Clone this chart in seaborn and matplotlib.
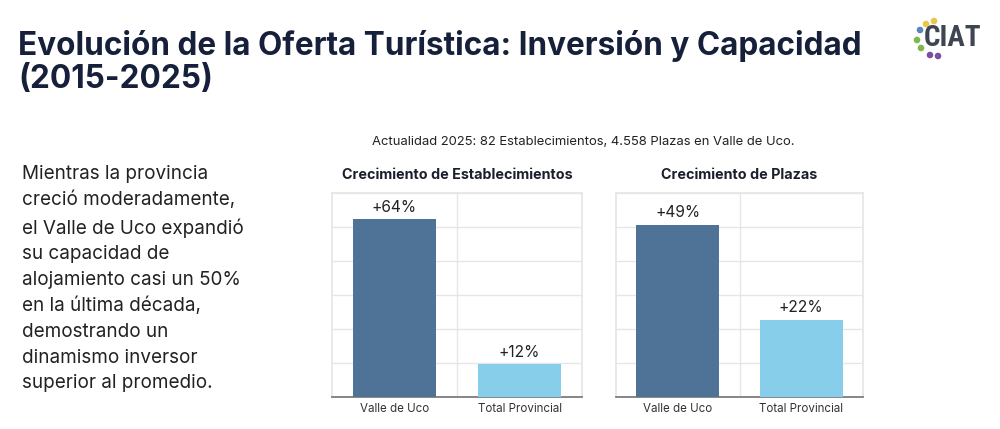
import pandas as pd
import matplotlib
matplotlib.use("Agg")
import matplotlib.pyplot as plt
import matplotlib.patches as mpatches
import numpy as np
import seaborn as sns

# data
categories = ["Valle de Uco", "Total Provincial"]
establecimientos = [64, 12]
plazas = [49, 22]
bar_colors = ["#4f7396", "#87ceeb"]

title_lines = ["Evolución de la Oferta Turística: Inversión y Capacidad", "(2015-2025)"]
subtitle = "Actualidad 2025: 82 Establecimientos, 4.558 Plazas en Valle de Uco."
chart_titles = ["Crecimiento de Establecimientos", "Crecimiento de Plazas"]
paragraph = ("Mientras la provincia\ncreció moderadamente,\nel Valle de Uco expandió\n"
             "su capacidad de\nalojamiento casi un 50%\nen la última década,\n"
             "demostrando un\ndinamismo inversor\nsuperior al promedio.")

sns.set_theme(style="white")
plt.rcParams['font.family'] = ['Inter', 'DejaVu Sans']

fig = plt.figure(figsize=(10, 4.29), dpi=100)
fig.patch.set_facecolor("white")

# background layer in pixel coordinates for the slide texts
bg = fig.add_axes([0, 0, 1, 1])
bg.set_xlim(0, 1000)
bg.set_ylim(429, 0)
bg.axis("off")

bg.text(18, 55, title_lines[0], fontsize=22.7, fontweight="bold",
        color="#16203a", va="baseline")
bg.text(18, 88, title_lines[1], fontsize=22.7, fontweight="bold",
        color="#16203a", va="baseline")
bg.text(22, 165, paragraph, fontsize=13.6, color="#222222", va="top",
        linespacing=1.55)
bg.text(583, 142, subtitle, fontsize=9.4, color="#222222", ha="center", va="center")

# logo
bg.text(953, 38, "CIAT", fontsize=21, fontweight="bold", color="#3f4652",
        ha="center", va="center", family=["Roboto Condensed", "Roboto", "DejaVu Sans"])
for (x, y, c) in [(934, 21, "#e8c84a"), (926, 24, "#e8c84a"), (920, 30, "#5a86b8"),
                  (917, 40, "#7fb84c"), (921, 48, "#7fb84c"), (930, 55, "#7a4fa0"),
                  (938, 56, "#7a4fa0")]:
    bg.add_patch(mpatches.Circle((x, y), 2.6, color=c))
bg.add_patch(mpatches.Arc((25, 432), 12, 14, theta1=20, theta2=160,
                          color="#d0344a", lw=2))

df = pd.DataFrame({"cat": categories, "est": establecimientos, "pla": plazas})
positions = [[0.332, 0.0746, 0.25, 0.4755], [0.616, 0.0746, 0.247, 0.4755]]
cols = ["est", "pla"]
ymaxes = [73.5, 58]

for pos, col, ttl, ymax in zip(positions, cols, chart_titles, ymaxes):
    ax = fig.add_axes(pos)
    sns.barplot(data=df, x="cat", y=col, hue="cat", palette=bar_colors,
                width=0.67, saturation=1, legend=False, ax=ax, zorder=3)
    ax.set_ylim(0, ymax)
    ax.set_yticks(np.linspace(0, ymax, 7))
    ax.set_xticks([0, 1])
    ax.set_xticks([0.5], minor=True)
    ax.yaxis.grid(True, color="#e6e6e6", lw=1, zorder=0)
    ax.xaxis.grid(True, which="minor", color="#e6e6e6", lw=1, zorder=0)
    ax.tick_params(axis="y", left=False, labelleft=False)
    ax.tick_params(axis="x", labelsize=8.3, colors="#333333", pad=4, length=0)
    ax.set_xlabel("")
    ax.set_ylabel("")
    ax.set_title(ttl, fontsize=10.3, fontweight="bold", color="#1a1f2b", pad=10)
    for side in ["top", "right", "left"]:
        ax.spines[side].set_color("#e6e6e6")
    ax.spines["bottom"].set_color("#777777")
    ax.set_facecolor("white")
    for bar, v in zip(ax.patches, df[col]):
        bar.set_edgecolor("none")
        ax.annotate(f"+{v}%", (bar.get_x() + bar.get_width() / 2, bar.get_height()),
                    xytext=(0, 3), textcoords="offset points", ha="center",
                    va="bottom", fontsize=11.2, color="#222222")

fig.savefig("out.png", dpi=100, facecolor="white")
